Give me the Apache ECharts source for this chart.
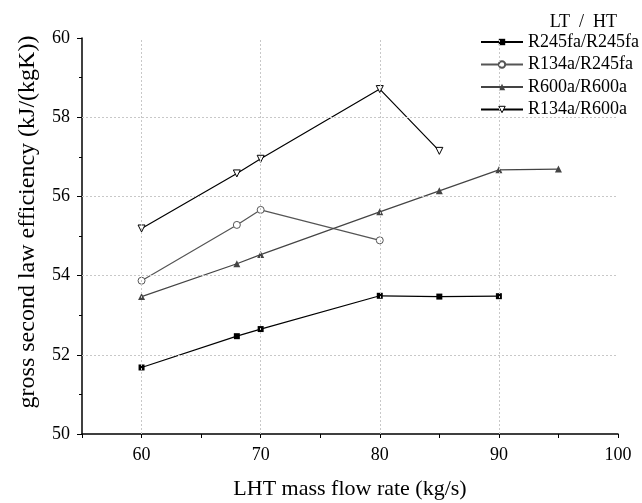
<!DOCTYPE html>
<html>
<head>
<meta charset="utf-8">
<script src="https://cdn.jsdelivr.net/npm/echarts@6/dist/echarts.min.js"></script>
<style>
  html, body { margin: 0; padding: 0; background: #fff; }
  #main { width: 642px; height: 503px; }
</style>
</head>
<body>
<div id="main"></div>
<script>
// LHT mass flow rate (kg/s)
const flowA = [60, 68, 70, 80, 85, 90];
const flowB = [60, 68, 70, 80];
const flowC = [60, 68, 70, 80, 85, 90, 95];
const flowD = [60, 68, 70, 80, 85];

// gross second law efficiency
const r245fa_r245fa = [51.68, 52.47, 52.65, 53.49, 53.47, 53.48];
const r134a_r245fa = [53.87, 55.28, 55.66, 54.89];
const r600a_r600a = [53.47, 54.30, 54.53, 55.61, 56.14, 56.67, 56.69];
const r134a_r600a = [55.19, 56.58, 56.95, 58.71, 57.15];

const xGrid = [60, 70, 80, 90];
const yGrid = [52, 54, 56, 58];

const font = "Liberation Serif";
const myChart = echarts.init(document.getElementById("main"));

function pairs(xs, ys) {
  return xs.map((x, i) => [x, ys[i]]);
}

// dotted grid only at the labelled values
const gridLine = {
  silent: true,
  symbol: "none",
  label: { show: false },
  lineStyle: { color: "#c8c8c8", type: [2, 2], width: 1 },
  data: xGrid.map(v => ({ xAxis: v })).concat(yGrid.map(v => ({ yAxis: v })))
};

const option = {
  animation: false,
  title: {
    text: "LT  /  HT",
    right: 20,
    top: 8,
    textStyle: { fontFamily: font, fontSize: 18, fontWeight: "normal", color: "#000" }
  },
  legend: {
    orient: "vertical",
    left: 480,
    top: 33,
    padding: 0,
    itemWidth: 42,
    itemHeight: 8,
    itemGap: 4.5,
    textStyle: { fontFamily: font, fontSize: 18, color: "#000", lineHeight: 18 },
    data: [
      "R245fa/R245fa",
      "R134a/R245fa",
      "R600a/R600a",
      { name: "R134a/R600a", itemStyle: { color: "#fff", borderColor: "#000", borderWidth: 1 } }
    ]
  },
  grid: { left: 82, right: 24, top: 38, bottom: 69, outerBoundsMode: "none" },
  xAxis: {
    type: "value",
    min: 55,
    max: 100,
    interval: 5,
    name: "LHT mass flow rate (kg/s)",
    nameLocation: "middle",
    nameGap: 44,
    nameTextStyle: { fontFamily: font, fontSize: 22, color: "#000" },
    axisLine: { show: true, lineStyle: { color: "#000", width: 1.5 } },
    axisTick: { show: true, length: 4, lineStyle: { color: "#000" } },
    axisLabel: {
      fontFamily: font, fontSize: 18, color: "#000", margin: 12,
      formatter: v => (v % 10 === 0 ? String(v) : "")
    },
    splitLine: { show: false }
  },
  yAxis: {
    type: "value",
    min: 50,
    max: 60,
    interval: 2,
    name: "gross second law efficiency (kJ/(kgK))",
    nameLocation: "middle",
    nameGap: 42,
    nameTextStyle: { fontFamily: font, fontSize: 24, color: "#000", padding: [0, 0, 0, 28] },
    axisLine: { show: true, lineStyle: { color: "#000", width: 1.5 } },
    axisTick: { show: true, length: 5, lineStyle: { color: "#000" } },
    minorTick: { show: true, splitNumber: 2, length: 3, lineStyle: { color: "#000" } },
    axisLabel: { fontFamily: font, fontSize: 18, color: "#000", margin: 12 },
    splitLine: { show: false }
  },
  series: [
    {
      name: "R245fa/R245fa",
      type: "line",
      data: pairs(flowA, r245fa_r245fa),
      symbol: "rect",
      symbolSize: 6,
      lineStyle: { color: "#000", width: 1.2 },
      itemStyle: { color: "#000" },
      markLine: gridLine,
      z: 3
    },
    {
      name: "R134a/R245fa",
      type: "line",
      data: pairs(flowB, r134a_r245fa),
      symbol: "circle",
      symbolSize: 7,
      lineStyle: { color: "#555", width: 1.2 },
      itemStyle: { color: "#fff", borderColor: "#555", borderWidth: 1 },
      z: 3
    },
    {
      name: "R600a/R600a",
      type: "line",
      data: pairs(flowC, r600a_r600a),
      symbol: "triangle",
      symbolSize: 7,
      lineStyle: { color: "#444", width: 1.2 },
      itemStyle: { color: "#444" },
      z: 3
    },
    {
      name: "R134a/R600a",
      type: "line",
      data: pairs(flowD, r134a_r600a),
      symbol: "triangle",
      symbolRotate: 180,
      symbolSize: 7,
      lineStyle: { color: "#000", width: 1.2 },
      itemStyle: { color: "#fff", borderColor: "#000", borderWidth: 1 },
      z: 3
    }
  ]
};

option && myChart.setOption(option);
</script>
</body>
</html>
